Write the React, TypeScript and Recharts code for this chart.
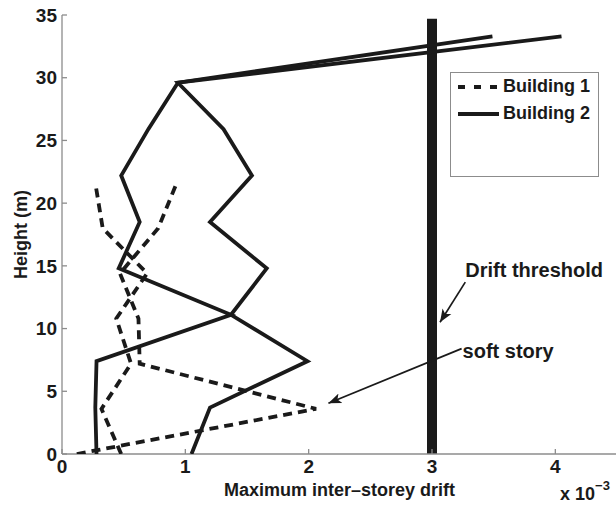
import { ScatterChart, Scatter, XAxis, YAxis, ReferenceLine, Legend, Label } from 'recharts';

// Building 1: six storeys (3.6 m), two response envelopes
const b1Height = [0, 3.6, 7.2, 10.8, 14.4, 18, 21.6];
const b1DriftLeft = [0.48, 0.32, 0.56, 0.44, 0.69, 0.33, 0.27];
const b1DriftRight = [0.12, 2.06, 0.63, 0.62, 0.47, 0.78, 0.93];

// Building 2: nine storeys (3.7 m)
const b2Height = [0, 3.7, 7.4, 11.1, 14.8, 18.5, 22.2, 25.9, 29.6, 33.3];
const b2DriftLeft = [0.28, 0.27, 0.28, 1.37, 0.46, 0.63, 0.48, 0.7, 0.94, 3.49];
const b2DriftRight = [1.05, 1.2, 1.99, 1.37, 1.66, 1.2, 1.54, 1.31, 0.94, 4.05];

const driftThreshold = 3;
const thresholdTop = 34.7;

const xTicks = [0, 1, 2, 3, 4];
const yTicks = [0, 5, 10, 15, 20, 25, 30, 35];
const legendNames = ['Building 1', 'Building 2'];

// annotation arrows, in data units: [from, to]
const thresholdArrow = [{ x: 3.27, y: 13.7 }, { x: 3.065, y: 10.5 }];
const softStoryArrow = [{ x: 3.24, y: 8.4 }, { x: 2.16, y: 4.05 }];

const FONT = '"Liberation Sans", Arial, Helvetica, sans-serif';
const INK = '#1a1a1a';
const AXIS = '#8c8c8c';
const DASH = '9 6';
const LINE_W = 3.8;

const toPoints = (drift: number[], height: number[]) => drift.map((x, i) => ({ x, y: height[i] }));

const noDot = () => <g />;

const annotation = (text: string, dx: number, dy: number) => (props: any) => (
  <g>
    <line
      x1={props.x1}
      y1={props.y1}
      x2={props.x2}
      y2={props.y2}
      stroke={INK}
      strokeWidth={1.7}
      markerEnd="url(#arrowHead)"
    />
    <text
      x={props.x1 + dx}
      y={props.y1 + dy}
      fill={INK}
      fontFamily={FONT}
      fontWeight="bold"
      fontSize={20}
    >
      {text}
    </text>
  </g>
);

const renderLegend = () => (
  <div
    style={{
      width: 149,
      height: 105,
      border: `1px solid ${AXIS}`,
      boxSizing: 'border-box',
      background: '#fff',
      fontFamily: FONT,
      fontWeight: 'bold',
      fontSize: 18,
      color: INK,
    }}
  >
    {legendNames.map((name, i) => (
      <div key={name} style={{ display: 'flex', alignItems: 'center', height: 27 }}>
        <svg width={52} height={10}>
          <line
            x1={7}
            x2={48}
            y1={5}
            y2={5}
            stroke={INK}
            strokeWidth={LINE_W}
            strokeDasharray={i === 0 ? '7 9' : undefined}
          />
        </svg>
        <span>{name}</span>
      </div>
    ))}
  </div>
);

const tickStyle = { fill: INK, fontSize: 19, fontWeight: 'bold', fontFamily: FONT };

export default function App() {
  return (
    <div
      style={{
        position: 'absolute',
        left: 0,
        top: 0,
        width: 616,
        height: 506,
        overflow: 'hidden',
        background: '#fff',
      }}
    >
      <svg width={0} height={0} style={{ position: 'absolute' }}>
        <defs>
          <marker
            id="arrowHead"
            viewBox="0 0 10 10"
            refX={10}
            refY={5}
            markerWidth={13}
            markerHeight={13}
            markerUnits="userSpaceOnUse"
            orient="auto"
          >
            <path d="M0,1 L10,5 L0,9 L2.5,5 Z" fill={INK} />
          </marker>
        </defs>
      </svg>
      <ScatterChart width={624} height={506} margin={{ top: 15, right: 7, bottom: 0, left: 12 }}>
        <XAxis
          type="number"
          dataKey="x"
          domain={[0, 4.5]}
          ticks={xTicks}
          interval={0}
          allowDataOverflow
          height={52}
          tickSize={-5}
          tickMargin={11}
          stroke={AXIS}
          strokeWidth={1.3}
          tick={tickStyle}
        >
          <Label
            value="Maximum inter–storey drift"
            position="insideBottom"
            offset={10}
            fill={INK}
            fontSize={18}
            fontWeight="bold"
            fontFamily={FONT}
          />
          <Label
            content={({ viewBox }: any) => (
              <text
                x={viewBox.x + viewBox.width - 57}
                y={viewBox.y + 46}
                fill={INK}
                fontFamily={FONT}
                fontWeight="bold"
                fontSize={18}
              >
                x 10
                <tspan dy={-10} fontSize={13}>
                  −3
                </tspan>
              </text>
            )}
          />
        </XAxis>
        <XAxis
          xAxisId="top"
          orientation="top"
          type="number"
          domain={[0, 4.5]}
          ticks={xTicks}
          interval={0}
          allowDataOverflow
          height={0}
          tickSize={-5}
          tick={false}
          stroke={AXIS}
          strokeWidth={1.3}
        />
        <YAxis
          type="number"
          dataKey="y"
          domain={[0, 35]}
          ticks={yTicks}
          interval={0}
          allowDataOverflow
          width={50}
          tickSize={-5}
          tickMargin={10}
          stroke={AXIS}
          strokeWidth={1.3}
          tick={tickStyle}
        >
          <Label
            content={({ viewBox }: any) => {
              const cx = viewBox.x + 15;
              const cy = viewBox.y + viewBox.height / 2;
              return (
                <text
                  x={cx}
                  y={cy}
                  transform={`rotate(-90, ${cx}, ${cy})`}
                  textAnchor="middle"
                  fill={INK}
                  fontFamily={FONT}
                  fontWeight="bold"
                  fontSize={18}
                >
                  Height (m)
                </text>
              );
            }}
          />
        </YAxis>
        <YAxis
          yAxisId="right"
          orientation="right"
          type="number"
          domain={[0, 35]}
          ticks={yTicks}
          interval={0}
          allowDataOverflow
          width={0}
          tickSize={-5}
          tick={false}
          stroke={AXIS}
          strokeWidth={1.3}
        />

        <ReferenceLine
          segment={[
            { x: driftThreshold, y: 0 },
            { x: driftThreshold, y: thresholdTop },
          ]}
          stroke={INK}
          strokeWidth={10}
        />

        <Scatter
          name="Building 1"
          data={toPoints(b1DriftLeft, b1Height)}
          fill={INK}
          line={{ stroke: INK, strokeWidth: LINE_W, strokeDasharray: DASH }}
          shape={noDot}
          isAnimationActive={false}
        />
        <Scatter
          name="Building 1 (b)"
          data={toPoints(b1DriftRight, b1Height)}
          fill={INK}
          line={{ stroke: INK, strokeWidth: LINE_W, strokeDasharray: DASH }}
          shape={noDot}
          isAnimationActive={false}
        />
        <Scatter
          name="Building 2"
          data={toPoints(b2DriftLeft, b2Height)}
          fill={INK}
          line={{ stroke: INK, strokeWidth: LINE_W }}
          shape={noDot}
          isAnimationActive={false}
        />
        <Scatter
          name="Building 2 (b)"
          data={toPoints(b2DriftRight, b2Height)}
          fill={INK}
          line={{ stroke: INK, strokeWidth: LINE_W }}
          shape={noDot}
          isAnimationActive={false}
        />

        <ReferenceLine segment={thresholdArrow} shape={annotation('Drift threshold', 0, -5)} />
        <ReferenceLine segment={softStoryArrow} shape={annotation('soft story', 1, 9)} />

        <Legend
          layout="horizontal"
          verticalAlign="middle"
          align="center"
          content={renderLegend}
          wrapperStyle={{ left: 450, top: 72, width: 149, height: 105 }}
        />
      </ScatterChart>
    </div>
  );
}
